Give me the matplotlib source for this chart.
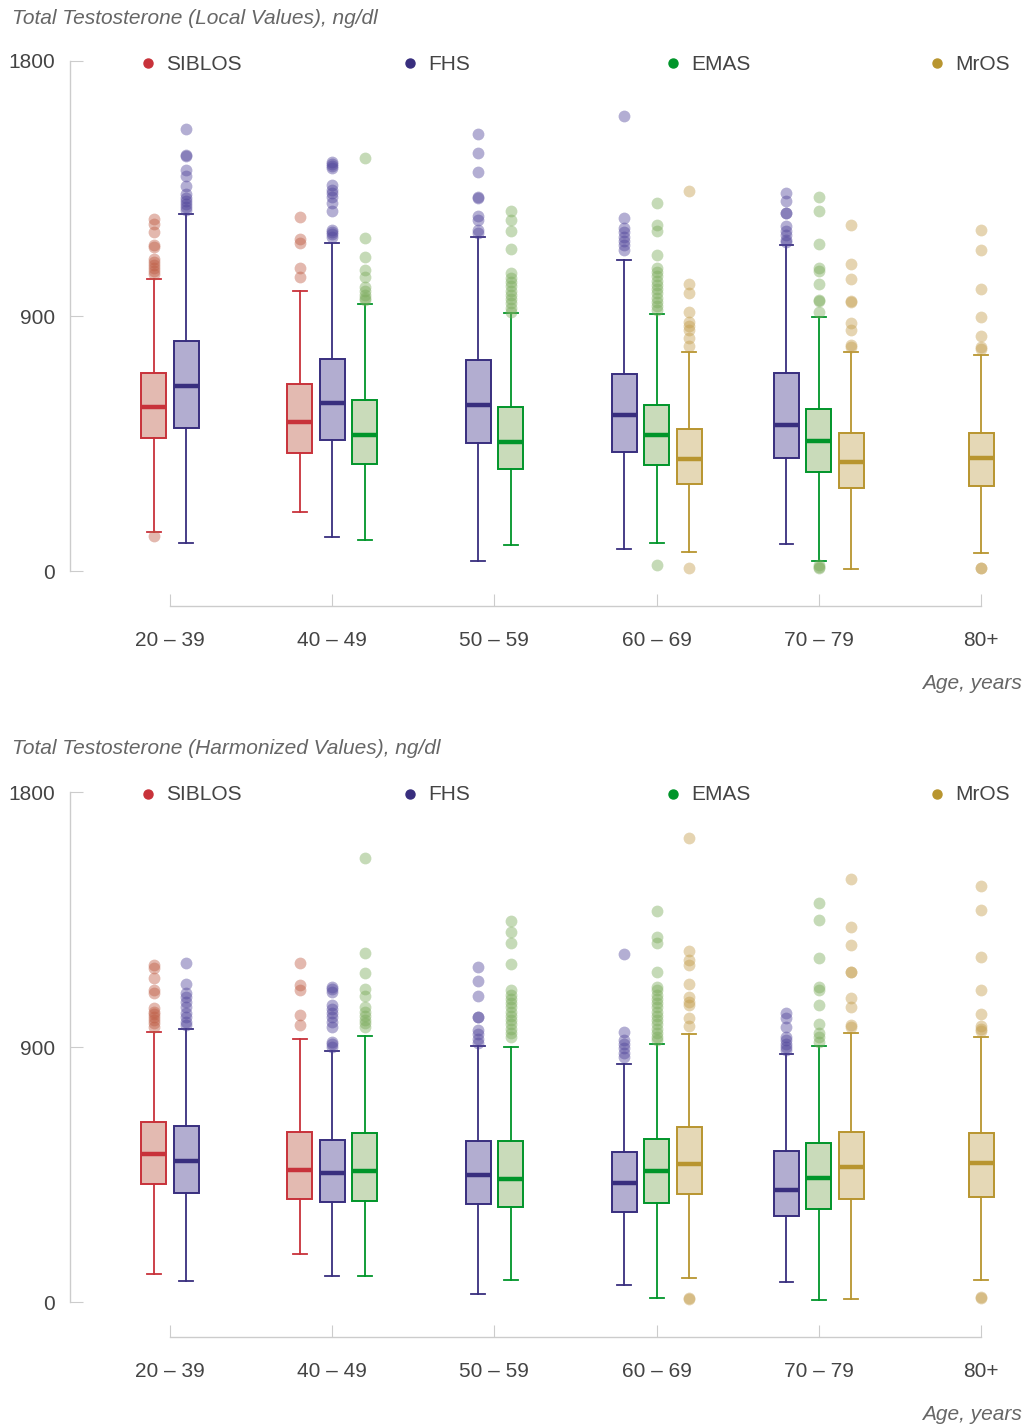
import matplotlib.pyplot as plt
from matplotlib.lines import Line2D

plt.rcParams['font.family'] = ['Liberation Sans', 'DejaVu Sans']

age_groups = ["20 – 39", "40 – 49", "50 – 59", "60 – 69", "70 – 79", "80+"]
series = ["SIBLOS", "FHS", "EMAS", "MrOS"]
line_colors = ["#C8323A", "#382E7E", "#00952A", "#B8952F"]
fill_colors = ["#E3BAB1", "#B2ADD0", "#C9DBBA", "#E5D8B6"]
flier_colors = ["#BE5C43", "#50449A", "#7AAB5A", "#C39D4C"]

# box stats per age group: [whislo, q1, median, q3, whishi], None = no data
# ---- local values ----
local_siblos = [[136, 470, 579, 698, 1030], [207, 416, 525, 660, 988], None, None, None, None]
local_siblos_out = [[1242, 1225, 1195, 1150, 1145, 1100, 1090, 1080, 1070, 1060, 1050, 125],
                    [1248, 1171, 1156, 1068, 1036], [], [], [], []]
local_fhs = [[99, 503, 652, 811, 1260], [121, 462, 592, 747, 1156], [36, 451, 586, 745, 1180],
             [79, 419, 551, 694, 1098], [95, 398, 515, 700, 1150], None]
local_fhs_out = [[1561, 1468, 1466, 1415, 1394, 1360, 1330, 1318, 1305, 1295, 1285, 1275],
                 [1444, 1435, 1428, 1421, 1362, 1345, 1333, 1321, 1298, 1270, 1203, 1195, 1188, 1180],
                 [1542, 1476, 1409, 1319, 1315, 1253, 1239, 1203, 1192],
                 [1606, 1246, 1209, 1195, 1180, 1165, 1150, 1133],
                 [1333, 1306, 1265, 1262, 1218, 1200, 1185, 1170, 1162], []]
local_emas = [None, [109, 378, 480, 605, 942], [92, 359, 454, 580, 909],
              [100, 373, 480, 587, 906], [35, 350, 458, 572, 898], None]
local_emas_out = [[], [1459, 1174, 1109, 1062, 1039, 1003, 990, 975, 965, 956],
                  [1270, 1239, 1201, 1136, 1051, 1035, 1020, 1005, 990, 975, 960, 945, 930, 915],
                  [1300, 1221, 1201, 1114, 1068, 1055, 1040, 1025, 1010, 995, 980, 965, 950, 935, 921, 20],
                  [1321, 1270, 1155, 1068, 1060, 1012, 956, 952, 915, 21, 15, 10], []]
local_mros = [None, None, None, [68, 307, 395, 501, 772], [8, 292, 384, 487, 774], [62, 300, 398, 486, 762]]
local_mros_out = [[], [], [],
                  [1342, 1013, 980, 915, 880, 865, 850, 821, 795, 9],
                  [1221, 1082, 1032, 953, 950, 876, 850, 798, 792],
                  [1202, 1132, 995, 898, 831, 792, 782, 12, 10]]

# ---- harmonized values ----
harm_siblos = [[99, 416, 522, 636, 954], [171, 365, 465, 600, 929], None, None, None, None]
harm_siblos_out = [[1191, 1180, 1142, 1101, 1089, 1036, 1025, 1015, 1005, 995, 985, 972],
                   [1198, 1119, 1101, 1012, 979], [], [], [], []]
harm_fhs = [[75, 386, 496, 620, 965], [93, 354, 454, 571, 887], [28, 345, 447, 569, 905],
            [61, 319, 419, 530, 841], [72, 305, 395, 534, 876], None]
harm_fhs_out = [[1196, 1123, 1089, 1075, 1060, 1042, 1019, 1005, 990, 978],
                [1113, 1104, 1095, 1048, 1035, 1020, 1005, 990, 972, 919, 910, 901],
                [1181, 1133, 1080, 1007, 1005, 960, 945, 930, 913],
                [1230, 954, 925, 910, 895, 880, 866],
                [1021, 1001, 969, 936, 925, 912, 900, 889], []]
harm_emas = [None, [93, 357, 461, 596, 940], [77, 336, 435, 569, 901],
             [14, 350, 461, 576, 910], [6, 328, 437, 560, 905], None]
harm_emas_out = [[], [1566, 1233, 1160, 1103, 1080, 1042, 1025, 1010, 995, 985, 972],
                 [1345, 1307, 1266, 1193, 1101, 1085, 1070, 1055, 1040, 1025, 1010, 995, 980, 965, 950, 936],
                 [1380, 1289, 1266, 1165, 1113, 1100, 1085, 1070, 1055, 1040, 1025, 1010, 995, 980, 965, 950, 935, 925],
                 [1407, 1348, 1213, 1113, 1101, 1047, 981, 948, 935, 919], []]
harm_mros = [None, None, None, [86, 380, 486, 618, 947], [11, 362, 475, 599, 948], [79, 372, 489, 598, 935]]
harm_mros_out = [[], [], [],
                 [1636, 1239, 1207, 1189, 1121, 1077, 1060, 1048, 1004, 974, 13, 10],
                 [1492, 1322, 1261, 1166, 1165, 1074, 1042, 978, 972],
                 [1468, 1383, 1218, 1100, 1018, 974, 965, 957, 17, 13]]

panels = [
    ("Total Testosterone (Local Values), ng/dl",
     [local_siblos, local_fhs, local_emas, local_mros],
     [local_siblos_out, local_fhs_out, local_emas_out, local_mros_out]),
    ("Total Testosterone (Harmonized Values), ng/dl",
     [harm_siblos, harm_fhs, harm_emas, harm_mros],
     [harm_siblos_out, harm_fhs_out, harm_emas_out, harm_mros_out]),
]

W, H = 1028, 1424
fig = plt.figure(figsize=(W / 100, H / 100), dpi=100)

grey = "#CCCCCC"
txt = "#444444"
step = 0.2
bw = 0.154

for p, (title, boxes, outs) in enumerate(panels):
    off = p * 731
    top_px, bot_px = 61 + off, 606 + off
    ax = fig.add_axes([70 / W, 1 - bot_px / H, 950 / W, (bot_px - top_px) / H])
    ax.set_xlim(-0.6165, 5.24)
    ax.set_ylim(-123.5, 1800)

    for g in range(len(age_groups)):
        present = [s for s in range(len(series)) if boxes[s][g] is not None]
        n = len(present)
        for k, s in enumerate(present):
            lo, q1, med, q3, hi = boxes[s][g]
            stats = [dict(whislo=lo, q1=q1, med=med, q3=q3, whishi=hi, fliers=outs[s][g])]
            pos = g + (k - (n - 1) / 2) * step
            c = line_colors[s]
            ax.bxp(stats, positions=[pos], widths=bw, patch_artist=True, capwidths=bw * 0.55,
                   boxprops=dict(facecolor=fill_colors[s], edgecolor=c, linewidth=1.4),
                   medianprops=dict(color=c, linewidth=3.2, solid_capstyle='butt'),
                   whiskerprops=dict(color=c, linewidth=1.3),
                   capprops=dict(color=c, linewidth=1.3),
                   flierprops=dict(marker='o', markerfacecolor=flier_colors[s], markeredgecolor='none',
                                   markersize=8.5, alpha=0.43),
                   manage_ticks=False)

    for side in ["top", "right"]:
        ax.spines[side].set_visible(False)
    ax.spines["left"].set_bounds(0, 1800)
    ax.spines["bottom"].set_bounds(0, 5)
    for side in ["left", "bottom"]:
        ax.spines[side].set_color(grey)
        ax.spines[side].set_linewidth(1.0)

    ax.set_yticks([0, 900, 1800])
    ax.set_yticklabels(["0", "900", "1800"])
    ax.set_xticks(range(len(age_groups)))
    ax.set_xticklabels(age_groups)
    ax.tick_params(axis="y", direction="in", length=9, color=grey, labelcolor=txt,
                   labelsize=15, pad=11)
    ax.tick_params(axis="x", direction="in", length=9, color=grey, labelcolor=txt,
                   labelsize=15, pad=18)

    fig.text(12 / W, 1 - (18 + off) / H, title, ha="left", va="center",
             fontsize=15, style="italic", color="#666666")
    fig.text(1022 / W, 1 - (683 + off) / H, "Age, years", ha="right", va="center",
             fontsize=15, style="italic", color="#666666")

    legend_x = [148, 410, 673, 937]
    for s, name in enumerate(series):
        fig.add_artist(Line2D([legend_x[s] / W], [1 - (63 + off) / H], marker='o',
                              markersize=6.5, color=line_colors[s], linestyle='none'))
        fig.text((legend_x[s] + 18) / W, 1 - (64 + off) / H, name, ha="left", va="center",
                 fontsize=15, color=txt)

fig.savefig("out.png", dpi=100, facecolor="white")
